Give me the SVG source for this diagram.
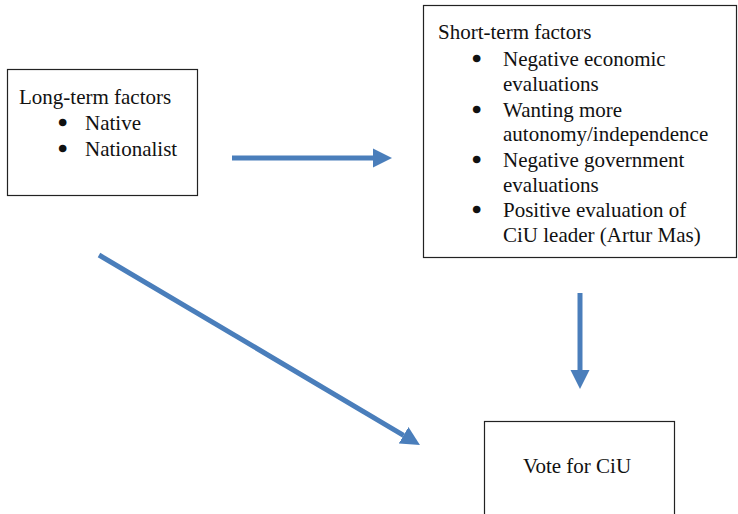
<svg xmlns="http://www.w3.org/2000/svg" width="738" height="514" viewBox="0 0 738 514">
<style>
.box{fill:#fff;stroke:#222;stroke-width:1.2}
.t{font-family:'Liberation Serif','DejaVu Serif',serif;font-size:21px;fill:#111}
.b{stroke:#111;stroke-width:2.6;stroke-linejoin:round}
.conn{stroke:#4A7EBB;stroke-width:5;fill:none}
</style>
<defs>
<marker id="ah" markerUnits="userSpaceOnUse" markerWidth="20" markerHeight="20" refX="0" refY="9.5" orient="auto" viewBox="0 0 20 19">
<path d="M0,0 L19,9.5 L0,19 z" fill="#4A7EBB"/>
</marker>
</defs>
<rect width="738" height="514" fill="#fff"/>
<g id="long-term" class="t">
<rect class="box" x="7.5" y="69.5" width="190" height="126"/>
<text x="19" y="104">Long-term factors</text>
<text class="b" x="59" y="130">•</text><text x="85" y="130">Native</text>
<text class="b" x="59" y="156">•</text><text x="85" y="156">Nationalist</text>
</g>
<g id="short-term" class="t">
<rect class="box" x="423.5" y="5.5" width="313" height="252"/>
<text x="438" y="39">Short-term factors</text>
<text class="b" x="473" y="66">•</text><text x="503" y="66">Negative economic</text>
<text x="503" y="91">evaluations</text>
<text class="b" x="473" y="117">•</text><text x="503" y="117">Wanting more</text>
<text x="503" y="141">autonomy/independence</text>
<text class="b" x="473" y="167">•</text><text x="503" y="167">Negative government</text>
<text x="503" y="192">evaluations</text>
<text class="b" x="473" y="217">•</text><text x="503" y="217">Positive evaluation of</text>
<text x="503" y="242">CiU leader (Artur Mas)</text>
</g>
<g id="vote" class="t">
<rect class="box" x="484.5" y="421.5" width="190" height="110"/>
<text x="577" y="473" text-anchor="middle">Vote for CiU</text>
</g>
<g id="connectors">
<line class="conn" x1="232" y1="158" x2="373" y2="158" marker-end="url(#ah)"/>
<line class="conn" x1="580" y1="293" x2="580" y2="370" marker-end="url(#ah)"/>
<line class="conn" x1="99" y1="255" x2="403.6" y2="435.3" marker-end="url(#ah)"/>
</g>
</svg>
